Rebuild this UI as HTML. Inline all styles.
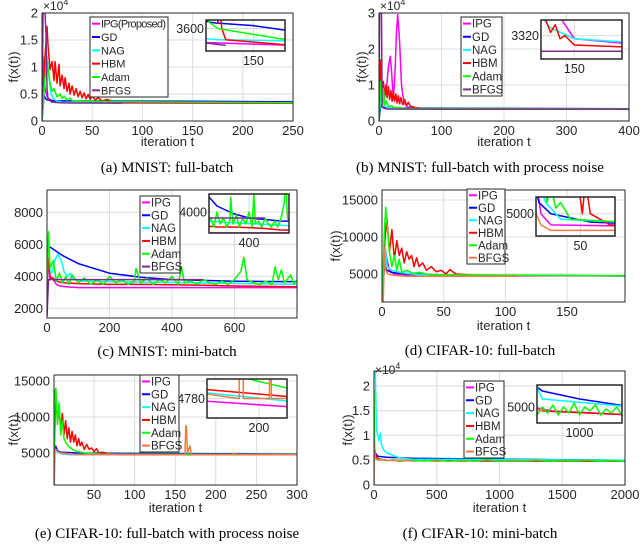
<!DOCTYPE html>
<html><head><meta charset="utf-8"><style>
html,body{margin:0;padding:0;background:#fff;width:640px;height:556px;overflow:hidden;}
svg{display:block;font-family:"Liberation Sans",sans-serif;overflow:hidden;}
</style></head><body>
<svg id="fig" width="640" height="556" viewBox="0 0 640 556" xmlns="http://www.w3.org/2000/svg"></svg>
<script>
// ---------- data (a) MNIST full-batch ----------
const a_ipg_t=[0,1,2,3,5,8,12,15,20,30,250];
const a_ipg_v=[0,12000,9000,6000,4500,4000,3700,3500,3400,3350,3300];
const a_gd_t=[0,2,3,5,10,50,150,250];
const a_gd_v=[0,4800,4300,3900,3750,3700,3650,3550];
const a_nag_t=[0,3,5,7,9,12,15,20,30,60,250];
const a_nag_v=[0,9000,12000,8000,5000,4000,3700,3500,3420,3400,3380];
const a_hbm_t=[0,3,5,6,8,10,12,13,15,17,18,20,22,23,25,27,28,30,32,34,36,38,40,42,44,46,48,50,53,56,60,65,70,80,250];
const a_hbm_v=[0,12000,17500,14000,9500,11000,7500,11000,7000,10500,6500,8500,6000,8000,5500,7000,5000,6500,4800,6000,4500,5500,4300,5200,4100,4900,4000,4600,3900,4300,3700,4000,3600,3400,3300];
const a_adam_t=[0,3,5,8,10,12,15,18,20,22,25,28,30,40,60,250];
const a_adam_v=[0,8000,11000,7000,5500,6000,4500,5000,4200,4600,3900,4200,3800,3700,3600,3380];
const a_bfgs_t=[0,1,2,3,4,5,6,10,20,80];
const a_bfgs_v=[0,20000,20000,20000,16000,6000,4000,3500,3350,3300];
// ---------- data (b) MNIST full-batch with process noise ----------
const b_ipg_t=[0,2,5,8,12,15,18,20,23,26,28,30,33,36,40,45,50,60,80,150,400];
const b_ipg_v=[0,9000,5000,6000,9000,15000,18000,14000,6000,15000,25000,29500,22000,10000,5000,4000,3600,3400,3350,3318,3311];
const b_gd_t=[0,3,5,10,400];
const b_gd_v=[0,4500,4000,3600,3400];
const b_nag_t=[0,4,6,8,12,20,60,100,150,400];
const b_nag_v=[0,9000,6000,4500,3800,3500,3340,3325,3318,3313];
const b_hbm_t=[0,3,5,7,9,11,13,15,17,19,21,23,25,27,29,31,33,35,38,41,44,47,50,55,60,70,80,90,100,110,120,130,150,400];
const b_hbm_v=[0,17000,8000,11000,7000,10000,6500,9500,6000,8500,5500,8000,5500,7500,5000,7000,4800,6500,4500,6000,4300,5200,4100,3900,3700,3500,3400,3330,3322,3327,3318,3320,3314,3311];
const b_adam_t=[0,3,5,7,9,12,15,20,25,30,40,400];
const b_adam_v=[0,11000,7000,9000,4500,5500,4000,4200,3700,3800,3500,3330];
const b_bfgs_t=[0,1,2,3,4,5,8,15,400];
const b_bfgs_v=[0,30000,30000,30000,30000,4000,3500,3310,3310];
// ---------- data (c) MNIST mini-batch ----------
const c_ipg_t=[0,3,10,20,30,40,60,100,800];
const c_ipg_v=[1500,5000,4000,3800,3500,3400,3350,3300,3300];
const c_gd_t=[0,5,50,100,200,300,400,500,600,700,800];
const c_gd_v=[6000,5900,5300,4800,4200,3950,3800,3750,3700,3680,3670];
const c_nag_t=[0,5,15,25,35,45,55,65,75,85,95,110,800];
const c_nag_v=[5500,4500,4200,5000,5400,5000,4300,4000,4200,3800,3800,3700,3500];
const c_hbm_t=[0,5,10,20,30,50,100,200,300,400,500,600,700,800];
const c_hbm_v=[6000,4800,3800,3900,3700,3600,3550,3500,3500,3480,3450,3400,3380,3350];
const c_adam_t=[0,5,10,20,30,40,50,60,70,80,100,120,140,160,180,200,220,240,260,280,285,300,320,340,360,380,400,420,430,440,460,480,500,520,540,560,580,600,620,630,640,660,680,700,720,730,740,750,760,780,790,800];
const c_adam_v=[3500,6800,4500,5000,3700,4200,3600,4000,3500,4100,3600,3900,3500,3800,3500,4000,3600,3800,3500,3700,4500,3600,3900,3500,3800,3600,4000,3500,4600,3600,3700,3500,3800,3600,3500,3700,3500,3800,4300,5200,3800,3600,3500,3700,3500,4600,3800,4400,3600,4100,3500,3800];
const c_bfgs_t=[0,5,10,500];
const c_bfgs_v=[1500,3800,3800,3800];
// ---------- data (d) CIFAR-10 full-batch ----------
const d_ipg_t=[0,2,4,6,10,20,197];
const d_ipg_v=[1200,9000,7000,5500,5000,4800,4750];
const d_gd_t=[0,2,4,8,20,60,197];
const d_gd_v=[1200,6200,5500,5200,5000,4850,4750];
const d_nag_t=[0,2,4,8,15,30,197];
const d_nag_v=[1200,10000,6000,5500,5200,4900,4750];
const d_hbm_t=[0,2,4,6,8,10,12,14,16,18,20,22,24,26,28,30,33,36,40,44,48,52,55,60,70,80,197];
const d_hbm_v=[1200,9000,12500,8000,11000,7000,9500,7500,8500,6500,8000,7000,7500,6000,7200,6000,6500,5500,6000,5300,5500,5000,5600,5000,4900,4800,4750];
const d_adam_t=[0,2,3,4,6,8,10,12,14,16,20,25,30,40,197];
const d_adam_v=[1200,11000,14000,12000,8000,6000,7500,5500,7000,5200,5500,5100,5200,4900,4750];
const d_bfgs_t=[0,1,2,3,5,10,20,110];
const d_bfgs_v=[1200,1200,8500,5500,5000,4800,4700,4700];
// ---------- data (e) CIFAR-10 full-batch with process noise ----------
const e_ipg_t=[1,3,5,10,20,300];
const e_ipg_v=[5500,6000,5200,4900,4780,4760];
const e_gd_t=[1,3,5,10,30,100,300];
const e_gd_v=[5000,5800,5300,5100,5000,4950,4850];
const e_nag_t=[1,3,5,10,20,300];
const e_nag_v=[5000,5500,5100,4900,4800,4770];
const e_hbm_t=[1,3,5,7,9,11,13,15,17,19,21,23,25,27,29,31,33,35,38,41,44,47,50,53,56,60,70,80,300];
const e_hbm_v=[5000,13500,9000,11500,8000,10500,7500,9500,7000,8500,6500,8000,6500,7500,6000,7000,6000,6500,5500,6200,5500,5700,5200,5600,5000,5100,4900,4800,4780];
const e_adam_t=[1,2,3,5,7,9,11,13,15,18,20,25,30,40,60,300];
const e_adam_v=[5000,13500,14000,9000,12000,7500,9500,7000,6500,6000,5800,5400,5200,5000,4850,4790];
const e_bfgs_t=[1,2,5,10,30,160,162,163,164,165,168,170,220,222,224,300];
const e_bfgs_v=[600,5500,5200,5000,4800,4780,4780,8800,8500,5000,6000,4780,4780,5000,4780,4780];
// ---------- data (f) CIFAR-10 mini-batch ----------
const f_ipg_t=[0,10,30,100,500,2000];
const f_ipg_v=[5000,6000,5300,5000,4900,4800];
const f_gd_t=[0,10,30,100,300,1000,2000];
const f_gd_v=[7000,6500,5800,5600,5400,5200,5000];
const f_nag_t=[0,10,20,40,50,60,80,100,200,300,2000];
const f_nag_v=[23000,23000,11000,9000,10500,8000,7000,6500,5500,5200,5000];
const f_hbm_t=[0,10,20,50,100,300,2000];
const f_hbm_v=[8000,6500,5500,5200,5000,4900,4800];
const f_adam_t=[0,5,10,30,60,100,150,200,300,400,500,600,700,800,900,1000,1100,1200,1300,1400,1500,1600,1700,1800,1900,2000];
const f_adam_v=[19500,8000,5500,5000,5200,4900,5100,4800,5000,4850,5050,4800,5000,4850,5100,4800,5000,4900,5050,4800,4950,4850,5000,4800,4900,4800];
const f_bfgs_t=[0,3,5,10,20,50,100,300];
const f_bfgs_v=[0,8500,6000,5500,5200,5100,5000,4900];
// ---------- tick arrays ----------
const a_xticks=[0,50,100,150,200,250];
const a_yticks=[0,5000,10000,15000,20000];
const a_ylabels=["0","0.5","1","1.5","2"];
const b_xticks=[0,100,200,300,400];
const b_yticks=[0,10000,20000,30000];
const b_ylabels=["0","1","2","3"];
const c_xticks=[0,200,400,600];
const c_yticks=[2000,4000,6000,8000];
const d_xticks=[0,50,100,150];
const d_yticks=[5000,10000,15000];
const e_xticks=[50,100,150,200,250,300];
const e_yticks=[5000,10000,15000];
const f_xticks=[0,500,1000,1500,2000];
const f_yticks=[0,5000,10000,15000,20000];
const f_ylabels=["0","0.5","1","1.5","2"];
const seriesNames=["IPG","GD","NAG","HBM","Adam","BFGS"];

const NS="http://www.w3.org/2000/svg";
const svg=document.getElementById('fig');
function mk(tag,attrs,parent){const e=document.createElementNS(NS,tag);for(const k in attrs)e.setAttribute(k,attrs[k]);(parent||svg).appendChild(e);return e;}
function txt(s,x,y,size,anchor,parent,family){const t=mk('text',{x:x,y:y,'font-size':size,'text-anchor':anchor||'middle',fill:'#262626'},parent);if(family)t.setAttribute('font-family',family);t.textContent=s;return t;}
let clipId=0;
function drawAxes(g,box,xr,yr,series,xt,yt,opt){
  const [l,t,r,b]=box;
  const sx=v=>l+(v-xr[0])/(xr[1]-xr[0])*(r-l);
  const sy=v=>b-(v-yr[0])/(yr[1]-yr[0])*(b-t);
  const bg=mk('rect',{x:l,y:t,width:r-l,height:b-t,fill:'#fff'},g);
  
  
  xt.forEach(v=>{const ln=mk('line',{x1:sx(v),x2:sx(v),y1:t,y2:b,stroke:'#dcdcdc','stroke-width':1},g);
    
    });
  yt.forEach(v=>{const ln=mk('line',{x1:l,x2:r,y1:sy(v),y2:sy(v),stroke:'#dcdcdc','stroke-width':1},g);
    
    });
  const id='clip'+(clipId++);
  const cp=mk('clipPath',{id:id},g);mk('rect',{x:l,y:t,width:r-l,height:b-t},cp);
  const sg=mk('g',{'clip-path':'url(#'+id+')'},g);
  series.forEach((s,i)=>{
    const d=s[0].map((x,k)=>(k?'L':'M')+sx(x).toFixed(2)+','+sy(s[1][k]).toFixed(2)).join('');
    const p=mk('path',{d:d,fill:'none',stroke:s[2],'stroke-width':opt.lw||1.5,'stroke-linejoin':'round'},sg);
    
    
  });
  const fr=mk('rect',{x:l,y:t,width:r-l,height:b-t,fill:'none',stroke:'#262626','stroke-width':opt.fw||1},g);
  
  
  return {sx,sy};
}
function panel(P){
  const g=mk('g',{});
  
  
  const [l,t,r,b]=P.box;
  const ax=drawAxes(g,P.box,P.xr,P.yr,P.series,P.xt,P.yt,{prefix:P.key+'-'});
  P.xt.forEach(v=>{const tl=txt(String(v),ax.sx(v),b+14,13,'middle',g);
    
    });
  P.yt.forEach((v,i)=>{const tl=txt(P.yl?P.yl[i]:String(v),l-4,ax.sy(v)+4.5,13,'end',g);
    
    });
  if(P.exp){const e=mk('text',{x:l+1,y:P.exp,'font-size':12,fill:'#262626'},g);e.textContent='×10';
    const s=mk('tspan',{dy:-5,'font-size':9},e);s.textContent='4';
    
    }
  if(P.ylab){const yl=txt('f(x(t))',0,0,13,'middle',g);yl.setAttribute('transform','translate('+P.ylab[0]+','+P.ylab[1]+') rotate(-90)');
    
    }
  if(P.xlab){const xl=txt('iteration t',(l+r)/2,P.xlab,13,'middle',g);
    
    }
  const cap=txt(P.caption,P.capx,P.capy,15,'middle',g,'"Liberation Serif",serif');
  cap.setAttribute('fill','#000');
  
  
  // inset
  const I=P.inset;
  const ig=mk('g',{},g);
  
  
  const iax=drawAxes(ig,I.box,I.xr,I.yr,P.series,[I.xl],[I.yl],{prefix:P.key+'-inset-',lw:1.5,fw:1.5});
  const iy=txt(String(I.yl),I.box[0]-2,iax.sy(I.yl)+4.5,12.5,'end',ig);
  
  
  const ix=txt(String(I.xl),iax.sx(I.xl),I.box[3]+14,12.5,'middle',ig);
  
  
  // legend
  const L=P.legend;const lg=mk('g',{},g);
  
  
  const lb=mk('rect',{x:L[0],y:L[1],width:L[2]-L[0],height:L[3]-L[1],fill:'#fff',stroke:'#262626','stroke-width':1},lg);
  
  
  const rh=(L[3]-L[1])/6;
  P.series.forEach((s,i)=>{
    const y=L[1]+rh*(i+0.5);
    const sw=mk('line',{x1:L[0]+2,x2:L[0]+10,y1:y,y2:y,stroke:s[2],'stroke-width':2},lg);
    
    
    const name=(i===0&&P.key==='a')?'IPG(Proposed)':seriesNames[i];
    const tx=txt(name,L[0]+11,y+4,P.key==='a'?11:11.5,'start',lg);
    if(P.key==='a'&&i===0)tx.setAttribute('textLength',L[2]-L[0]-13);
    
    
  });
}
const C={ipg:'#ff00ff',gd:'#0000ff',nag:'#00ffff',hbm:'#ff0000',adam:'#00ff00',bp:'#7e2f8e',bo:'#f47a45'};
panel({key:'a',box:[42,13,293,121],xr:[0,250],yr:[0,20000],xt:a_xticks,yt:a_yticks,yl:a_ylabels,exp:10,ylab:[18,67],xlab:146,
 caption:'(a) MNIST: full-batch',capx:167,capy:172,
 series:[[a_ipg_t,a_ipg_v,C.ipg],[a_gd_t,a_gd_v,C.gd],[a_nag_t,a_nag_v,C.nag],[a_hbm_t,a_hbm_v,C.hbm],[a_adam_t,a_adam_v,C.adam],[a_bfgs_t,a_bfgs_v,C.bp]],
 legend:[90,17,168,97],inset:{box:[206,20,285,51],xr:[30,230],yr:[3200,3750],xl:150,yl:3600}});
panel({key:'b',box:[379,13,629,121],xr:[0,400],yr:[0,30000],xt:b_xticks,yt:b_yticks,yl:b_ylabels,exp:10,ylab:[366,67],xlab:146,
 caption:'(b) MNIST: full-batch with process noise',capx:480,capy:172,
 series:[[b_ipg_t,b_ipg_v,C.ipg],[b_gd_t,b_gd_v,C.gd],[b_nag_t,b_nag_v,C.nag],[b_hbm_t,b_hbm_v,C.hbm],[b_adam_t,b_adam_v,C.adam],[b_bfgs_t,b_bfgs_v,C.bp]],
 legend:[461,17,502,96],inset:{box:[541,20,622,59],xr:[80,250],yr:[3305,3330],xl:150,yl:3320}});
panel({key:'c',box:[47,190,297,318],xr:[0,800],yr:[1400,9400],xt:c_xticks,yt:c_yticks,
 caption:'(c) MNIST: mini-batch',capx:167,capy:356,
 series:[[c_ipg_t,c_ipg_v,C.ipg],[c_gd_t,c_gd_v,C.gd],[c_nag_t,c_nag_v,C.nag],[c_hbm_t,c_hbm_v,C.hbm],[c_adam_t,c_adam_v,C.adam],[c_bfgs_t,c_bfgs_v,C.bp]],
 legend:[140,196,180,273],inset:{box:[209,194,289,233],xr:[150,650],yr:[3300,4600],xl:400,yl:4000}});
panel({key:'d',box:[382,190,625,302],xr:[0,197],yr:[1216,16350],xt:d_xticks,yt:d_yticks,ylab:[340,246],xlab:330,
 caption:'(d) CIFAR-10: full-batch',capx:480,capy:355,
 series:[[d_ipg_t,d_ipg_v,C.ipg],[d_gd_t,d_gd_v,C.gd],[d_nag_t,d_nag_v,C.nag],[d_hbm_t,d_hbm_v,C.hbm],[d_adam_t,d_adam_v,C.adam],[d_bfgs_t,d_bfgs_v,C.bo]],
 legend:[467,189,505,264],inset:{box:[536,197,615,236],xr:[5,85],yr:[4600,5300],xl:50,yl:5000}});
panel({key:'e',box:[54,375,297,485],xr:[0.7,300],yr:[556,15833],xt:e_xticks,yt:e_yticks,ylab:[18,430],xlab:512,
 caption:'(e) CIFAR-10: full-batch with process noise',capx:167,capy:538,
 series:[[e_ipg_t,e_ipg_v,C.ipg],[e_gd_t,e_gd_v,C.gd],[e_nag_t,e_nag_v,C.nag],[e_hbm_t,e_hbm_v,C.hbm],[e_adam_t,e_adam_v,C.adam],[e_bfgs_t,e_bfgs_v,C.bo]],
 legend:[140,375,179,452],inset:{box:[207,379,287,418],xr:[100,254],yr:[4740,4820],xl:200,yl:4780}});
panel({key:'f',box:[374,371,625,485],xr:[0,2000],yr:[0,23000],xt:f_xticks,yt:f_yticks,yl:f_ylabels,exp:374,ylab:[352,430],xlab:512,
 caption:'(f) CIFAR-10: mini-batch',capx:480,capy:538,
 series:[[f_ipg_t,f_ipg_v,C.ipg],[f_gd_t,f_gd_v,C.gd],[f_nag_t,f_nag_v,C.nag],[f_hbm_t,f_hbm_v,C.hbm],[f_adam_t,f_adam_v,C.adam],[f_bfgs_t,f_bfgs_v,C.bo]],
 legend:[464,381,504,458],inset:{box:[537,385,622,423],xr:[200,1800],yr:[4600,5550],xl:1000,yl:5000}});
</script>
</body></html>
